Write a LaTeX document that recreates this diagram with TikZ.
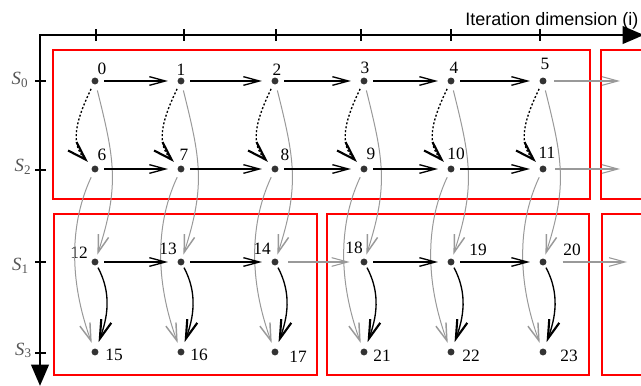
\documentclass[tikz,border=0pt]{standalone}
\usepackage{fontspec}
\setmainfont{Liberation Serif}
\newfontfamily\axisfont{Liberation Sans}
\usetikzlibrary{arrows.meta}

\definecolor{boxred}{RGB}{255,0,0}
\definecolor{dotgray}{RGB}{51,51,51}
\definecolor{fadegray}{RGB}{153,153,153}
\definecolor{sgray}{RGB}{85,85,85}

\begin{document}
\begin{tikzpicture}
	[x=0.75pt,y=0.75pt,
	dot/.style={circle,fill=dotgray,inner sep=0pt,minimum size=5.2pt},
	num/.style={inner sep=0pt,font=\fontsize{13}{15}\selectfont},
	slab/.style={inner sep=0pt,anchor=base,text=sgray,font=\fontsize{14}{16}\selectfont},
	tile/.style={draw=boxred,line width=1.6pt},
	axis/.style={line width=2.2pt,line join=miter,{Triangle[length=16pt,width=13pt]}-{Triangle[length=16pt,width=13pt]}},
	tick/.style={line width=1.5pt},
	flow/.style={line width=1pt,-{Straight Barb[length=12pt,width=6.5pt]},shorten <=4pt,shorten >=7pt},
	faded/.style={draw=fadegray,line width=0.8pt,-{Straight Barb[length=12pt,width=6.5pt]}},
	longa/.style={draw=fadegray,line width=0.75pt,-{Straight Barb[length=13pt,width=8pt,line width=1.1pt]},
		out=-76,in=72,looseness=1.13,shorten <=4.5pt,shorten >=3pt},
	longb/.style={draw=fadegray,line width=0.75pt,-{Straight Barb[length=13pt,width=8pt,line width=1.1pt]},
		out=245,in=110,out looseness=0.81,in looseness=1.07,shorten <=4pt,shorten >=4.4pt},
	down/.style={line width=1pt,-{Straight Barb[length=14pt,width=8pt,line width=1.6pt]},
		out=-62,in=70,looseness=1,shorten <=2pt,shorten >=5pt},
	dep/.style={line width=1pt,dash pattern=on 1.5pt off 1.5pt,-{Straight Barb[length=14pt,width=9pt,line width=1.6pt]},
		out=244,in=135,out looseness=1.22,in looseness=1,shorten <=3.8pt,shorten >=4.7pt}]

	\useasboundingbox (0,0) rectangle (641,385);

	% tiles
	\draw[tile] (53,186) rectangle (590,335);
	\draw[tile] (601,186) rectangle (660,335);
	\draw[tile] (54,10) rectangle (317,171);
	\draw[tile] (327,10) rectangle (589,171);
	\draw[tile] (602,10) rectangle (660,171);

	% axes
	\coordinate (origin) at (40,350);
	\coordinate (iend) at (644,350);
	\coordinate (send) at (40,-1);
	\draw[axis] (iend) -- (origin) -- (send);
	\foreach \x in {96,184,276,361,451,540}
		\draw[tick] (\x,344) -- (\x,356);
	\foreach \y in {304,215,123,32}
		\draw[tick] (35,\y) -- (46,\y);
	\node[anchor=base west,inner sep=0pt,font=\axisfont\fontsize{13.5}{16}\selectfont] (idim) at (465,359) {Iteration dimension (i)};

	\node[slab] (s0) at (20,300) {\textit{S}\textsubscript{0}};
	\node[slab] (s2) at (23,213) {\textit{S}\textsubscript{2}};
	\node[slab] (s1) at (20.5,114) {\textit{S}\textsubscript{1}};
	\node[slab] (s3) at (23.5,30) {\textit{S}\textsubscript{3}};

	% iterations
	\foreach \n/\x/\y in {0/95/304,1/181/304,2/275/304,3/364/304,4/451/304,5/543/304,
		6/95/216,7/181/216,8/275/216,9/364/216,10/451/216,11/543/216,
		12/95/123,13/181/123,14/275/123,18/364/123,19/451/123,20/543/123,
		15/95/33,16/181/33,17/275/33,21/364/33,22/451/33,23/543/33}
		\node[dot] (n\n) at (\x,\y) {};

	\foreach \n/\x/\y in {0/102/316,1/181/315,2/277/315,3/365/317,4/454/317,5/545/321,
		6/102/230,7/184/230,8/285/230,9/371/231,10/456/231,11/547/232,
		12/79/132,13/168/136,14/262/136,18/354/137,19/478/135,20/572/135,
		15/114/30,16/199/30,17/298/28,21/382/29,22/471/29,23/569/29}
		\node[num] (l\n) at (\x,\y) {\n};

	\coordinate (e5) at (620,304);
	\coordinate (e11) at (620,216);
	\coordinate (e20) at (627,123);

	\foreach \from/\to in {n0/n12,n1/n13,n2/n14,n3/n18,n4/n19,n5/n20}
		\draw[longa] (\from) to (\to);
	\foreach \from/\to in {n6/n15,n7/n16,n8/n17,n9/n21,n10/n22,n11/n23}
		\draw[longb] (\from) to (\to);

	\foreach \from/\to in {n0/n1,n1/n2,n2/n3,n3/n4,n4/n5,n6/n7,n7/n8,n8/n9,n9/n10,n10/n11,n12/n13,n13/n14,n18/n19,n19/n20}
		\draw[flow] (\from) -- (\to);

	\draw[faded,shorten <=5.6pt] (n5) -- (e5);
	\draw[faded,shorten <=6.4pt] (n11) -- (e11);
	\draw[faded,shorten <=7pt,shorten >=7.9pt] (n14) -- (n18);
	\draw[faded,shorten <=12pt] (n20) -- (e20);

	\foreach \from/\to in {n0/n6,n1/n7,n2/n8,n3/n9,n4/n10,n5/n11}
		\draw[dep] (\from) to (\to);
	\foreach \from/\to in {n12/n15,n13/n16,n14/n17,n18/n21,n19/n22,n20/n23}
		\draw[down] (\from) to (\to);
\end{tikzpicture}
\end{document}
